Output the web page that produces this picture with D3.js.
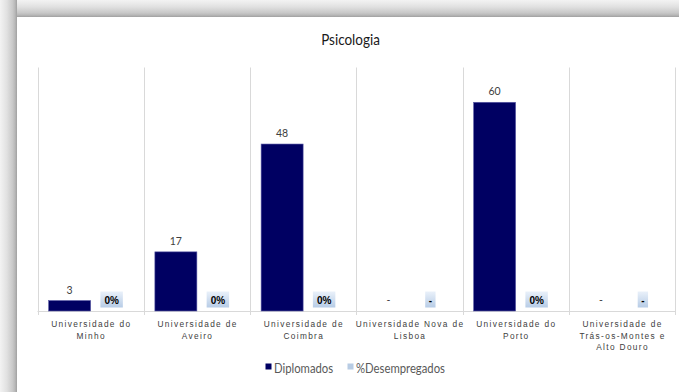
<!DOCTYPE html>
<html><head><meta charset="utf-8">
<script src="https://cdn.jsdelivr.net/npm/d3@7"></script>
<style>
html,body{margin:0;padding:0;background:#fff;}
svg{display:block;}
</style></head>
<body><svg id="c" width="679" height="392"></svg>
<script>
const title = "Psicologia";
const categories = ["Universidade do Minho","Universidade de Aveiro","Universidade de Coimbra","Universidade Nova de Lisboa","Universidade do Porto","Universidade de Trás-os-Montes e Alto Douro"];
const categoryLabelLines = [
  ["Universidade do","Minho"],
  ["Universidade de","Aveiro"],
  ["Universidade de","Coimbra"],
  ["Universidade Nova de","Lisboa"],
  ["Universidade do","Porto"],
  ["Universidade de","Trás-os-Montes e","Alto Douro"]
];
const seriesNames = ["Diplomados","%Desempregados"];
const diplomados = [3, 17, 48, null, 60, null];
const desempregados = [0, 0, 0, null, 0, null];
const yMax = 70;

const svg = d3.select("#c");
const W = 679, H = 392;
const defs = svg.append("defs");
const narrow = "Lato,'Liberation Sans',sans-serif";

function grad(id, horiz) {
  const g = defs.append("linearGradient").attr("id",id).attr("x1",0).attr("y1",0).attr("x2",horiz?1:0).attr("y2",horiz?0:1);
  [["0","#f3f3f3"],["0.4","#e1e1e1"],["0.75","#c8c8c8"],["0.88","#b8b8b8"],["1","#a0a0a0"]].forEach(s =>
    g.append("stop").attr("offset",s[0]).attr("stop-color",s[1]));
}
grad("gTop", false); grad("gLeft", true);
const gBox = defs.append("linearGradient").attr("id","gBox").attr("x1",0).attr("y1",0).attr("x2",0).attr("y2",1);
gBox.append("stop").attr("offset","0").attr("stop-color","#eaf1fa");
gBox.append("stop").attr("offset","1").attr("stop-color","#b7cce6");

svg.append("rect").attr("x",0).attr("y",0).attr("width",W).attr("height",17).attr("fill","url(#gTop)");
svg.append("rect").attr("x",0).attr("y",0).attr("width",17).attr("height",H).attr("fill","url(#gLeft)");
svg.append("rect").attr("x",17).attr("y",17).attr("width",W-17).attr("height",H-17).attr("fill","#fff");

const x0 = d3.scaleBand().domain(categories).range([37.5, 675]).paddingInner(0).paddingOuter(0);
const x1 = d3.scaleBand().domain(seriesNames).range([0, x0.bandwidth()]).paddingInner(0).paddingOuter(0.265);
const y = d3.scaleLinear().domain([0, yMax]).range([311, 67.5]);
const base = y(0);

const bounds = categories.map(c => x0(c)).concat([x0(categories[categories.length-1]) + x0.bandwidth()]);
svg.append("g").selectAll("line").data(bounds).join("line")
  .attr("x1", d => Math.round(d)+0.5).attr("x2", d => Math.round(d)+0.5)
  .attr("y1", y(yMax)).attr("y2", base + 4)
  .attr("stroke","#d9d9d9").attr("stroke-width",1);
svg.append("line").attr("x1",bounds[0]).attr("x2",bounds[bounds.length-1])
  .attr("y1",Math.round(base)+0.5).attr("y2",Math.round(base)+0.5).attr("stroke","#d9d9d9");

// title (horizontally condensed to mimic a narrow face)
svg.append("g").attr("transform","translate(350.5,45) scale(0.87,1)")
  .append("text").attr("x",0).attr("y",0).attr("text-anchor","middle")
  .attr("font-family",narrow).attr("font-size",15.5).attr("fill","#1a1a1a").text(title);

const gBars = svg.append("g");
categories.forEach((c,i) => {
  const v = diplomados[i];
  const bx = x0(c) + x1("Diplomados");
  const cx = bx + x1.bandwidth()/2;
  if (v != null) {
    gBars.append("rect").attr("x", bx).attr("y", y(v)).attr("width", x1.bandwidth()).attr("height", base - y(v))
      .attr("fill","#000062").attr("stroke","#5a5aa6").attr("stroke-width",0.6);
  }
  gBars.append("text").attr("x", cx).attr("y", (v != null ? y(v) : base) - 7)
    .attr("text-anchor","middle").attr("font-family",narrow)
    .attr("font-size",10.5).attr("fill","#404040").text(v != null ? v : "-");

  const p = desempregados[i];
  const px = x0(c) + x1("%Desempregados") + x1.bandwidth()/2;
  const label = p != null ? d3.format(".0%")(p) : "-";
  const t = gBars.append("text").attr("x", px).attr("y", base - 7.5)
    .attr("text-anchor","middle").attr("font-family","'Liberation Sans',Arial,sans-serif")
    .attr("font-weight","bold").attr("font-size",10).attr("fill","#000").text(label);
  const tw = t.node().getComputedTextLength();
  const padX = p != null ? 4 : 3.5;
  gBars.insert("rect", () => t.node()).attr("x", px - tw/2 - padX).attr("y", base - 19.5)
    .attr("width", tw + 2*padX).attr("height", 16).attr("fill","url(#gBox)");
});

// category labels
const ls = 1.35;
const gLab = svg.append("g").attr("font-family","'Liberation Sans',Arial,sans-serif")
  .attr("font-size",8.3).attr("fill","#404040").attr("letter-spacing", ls);
categories.forEach((c,i) => {
  const cx = x0(c) + x0.bandwidth()/2 + ls/2;
  categoryLabelLines[i].forEach((l,k) => {
    gLab.append("text").attr("x", cx).attr("y", 327 + k*11.7).attr("text-anchor","middle").text(l);
  });
});

// legend
const legColors = ["#000062","#b8cce4"];
const legX = [265.5, 347.5];
seriesNames.forEach((s,i) => {
  svg.append("rect").attr("x", legX[i]).attr("y", 363.5).attr("width", 6).attr("height", 6).attr("fill", legColors[i]);
  svg.append("g").attr("transform",`translate(${legX[i] + 8.5},372.5) scale(0.87,1)`)
    .append("text").attr("font-family",narrow).attr("font-size",13).attr("fill","#595959").text(s);
});
</script></body></html>
